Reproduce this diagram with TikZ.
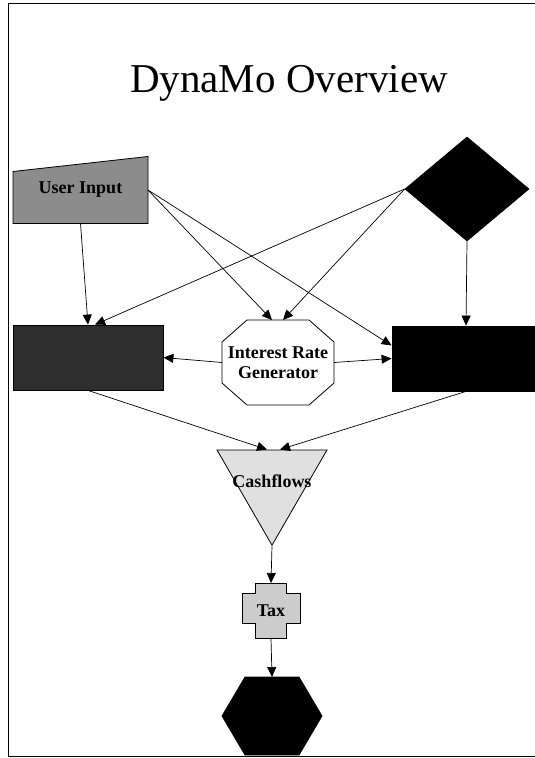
\documentclass[tikz,border=0pt]{standalone}
\usepackage{fontspec}
\setmainfont{Liberation Serif}
\usetikzlibrary{arrows.meta,shapes.geometric,calc,backgrounds}

\begin{document}
\begin{tikzpicture}[
  x=1pt, y=-1pt,
  nodetext/.style={font=\fontsize{18}{20}\selectfont\bfseries, align=center},
  outline/.style={draw, line width=0.8pt},
  anchorbox/.style={inner sep=0pt, outer sep=0pt},
  darkbox/.style={outline, minimum width=150pt, minimum height=65pt, inner sep=0pt},
  arrow/.style={-{Triangle[length=10pt,width=9pt]}, line width=0.7pt}
]
\useasboundingbox (0,0) rectangle (535,758);
\draw[line width=1pt] (535,3) -- (8,3) -- (8,756) -- (535,756);

\node[font=\fontsize{41}{45}\selectfont, anchor=base] (title) at (289,92) {DynaMo Overview};

\node[anchorbox, nodetext, minimum width=135pt, minimum height=67pt] (input) at (80.5,190) {User Input};
\node[outline, fill=black, diamond, minimum width=124pt, minimum height=104pt, inner sep=0pt] (data) at (467,189) {};
\node[darkbox, fill=black!82] (leftbox) at (88,357.5) {};
\node[anchorbox, nodetext, minimum width=112pt, minimum height=85pt] (irg) at (278,362.5) {Interest Rate\\Generator};
\node[darkbox, fill=black, minimum width=148pt] (rightbox) at (466,358.5) {};
\node[outline, fill=black!12, regular polygon, regular polygon sides=3, shape border rotate=180, minimum size=127pt, inner sep=0pt, label={[nodetext]center:Cashflows}] (cash) at (272,481.7) {};
\node[anchorbox, nodetext, minimum width=58pt, minimum height=55pt] (tax) at (271,610.5) {Tax};
\node[anchorbox, minimum width=100pt, minimum height=78pt] (result) at (272,716) {};

\begin{scope}[on background layer]
\filldraw[outline, fill=black!45] (input.south west) -- (input.south east) -- (input.north east) -- ($(input.north west)+(0,15)$) -- cycle;
\filldraw[outline, fill=white] ($(irg.north west)+(25,0)$) -- ($(irg.north east)+(-25,0)$) -- ($(irg.north east)+(0,22)$) -- ($(irg.south east)+(0,-22)$) -- ($(irg.south east)+(-25,0)$) -- ($(irg.south west)+(25,0)$) -- ($(irg.south west)+(0,-22)$) -- ($(irg.north west)+(0,22)$) -- cycle;
\filldraw[outline, fill=black!20] ($(tax.north)+(-15.5,0)$) -- ($(tax.north)+(15.5,0)$) -- ($(tax.north)+(15.5,10)$) -- ($(tax.north east)+(0,10)$) -- ($(tax.south east)+(0,-15)$) -- ($(tax.south)+(15.5,-15)$) -- ($(tax.south)+(15.5,0)$) -- ($(tax.south)+(-15.5,0)$) -- ($(tax.south)+(-15.5,-15)$) -- ($(tax.south west)+(0,-15)$) -- ($(tax.north west)+(0,10)$) -- ($(tax.north)+(-15.5,10)$) -- cycle;
\filldraw[outline, fill=black] (result.west) -- ($(result.north west)+(23,0)$) -- ($(result.north east)+(-23,0)$) -- (result.east) -- ($(result.south east)+(-23,0)$) -- ($(result.south west)+(23,0)$) -- cycle;
\end{scope}

\draw[arrow] (input.south) -- (leftbox.north);
\draw[arrow] (data.west) -- ([xshift=7pt]leftbox.north);
\draw[arrow] (data.west) -- ([xshift=5pt]irg.north);
\draw[arrow] (input.east) -- ([xshift=-6pt]irg.north);
\draw[arrow] (input.east) -- ([yshift=13pt]rightbox.west);
\draw[arrow] (data.south) -- (rightbox.north);
\draw[arrow] (irg.west) -- (leftbox.east);
\draw[arrow] (irg.east) -- (rightbox.west);
\draw[arrow] (leftbox.south) -- ([xshift=-5pt]cash.north);
\draw[arrow] (rightbox.south) -- ([xshift=8pt]cash.north);
\draw[arrow] (cash.south) -- (tax.north);
\draw[arrow] (tax.south) -- (result.north);
\end{tikzpicture}
\end{document}
